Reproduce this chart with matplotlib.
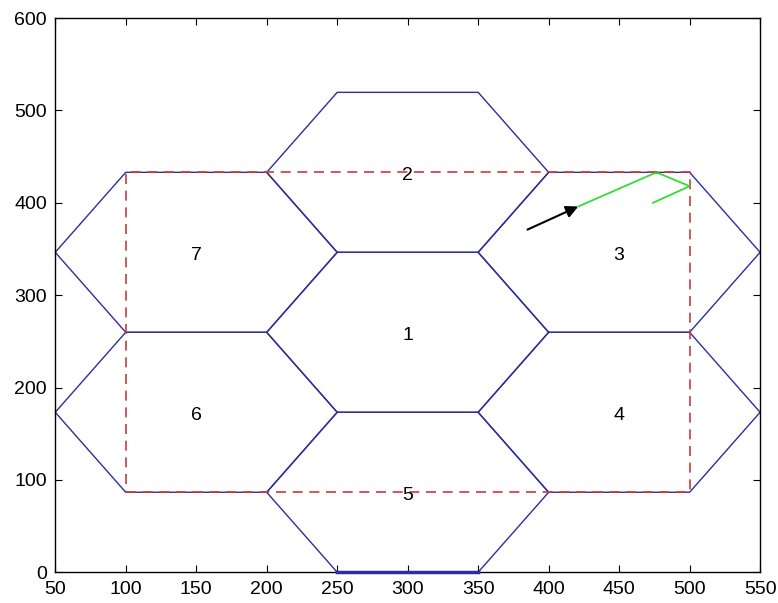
import numpy as np
import matplotlib.pyplot as plt

plt.rcParams['font.family'] = ['Liberation Sans', 'DejaVu Sans']

# hexagonal cells: label, center x, center y (cell radius 100)
cell_ids = ['1', '2', '3', '4', '5', '6', '7']
cell_x = [300, 300, 450, 450, 300, 150, 150]
cell_y = [259.8, 433.0, 346.4, 173.2, 86.6, 173.2, 346.4]
radius = 100

# coverage rectangle
rect_x = [100, 500]
rect_y = [86.6, 433.0]

# mobile path
arrow_start = (385, 371)
arrow_end = (421, 396)
path_x = [421, 475, 478, 500, 474]
path_y = [396, 432, 432, 418, 400]

blue = '#2e2e9c'
red = '#c83c3c'


def hexagon(cx, cy, r):
    ang = np.deg2rad(np.arange(0, 361, 60))
    return cx + r * np.cos(ang), cy + r * np.sin(ang)


def main():
    fig = plt.figure(figsize=(7.78, 6.03), dpi=100)
    ax = fig.add_axes([0.071, 0.051, 0.906, 0.919])

    for label, cx, cy in zip(cell_ids, cell_x, cell_y):
        hx, hy = hexagon(cx, cy, radius)
        ax.plot(hx, hy, color=blue, lw=1.0, clip_on=False, zorder=2)
        ax.text(cx, cy - 3, label, ha='center', va='center', fontsize=14,
                zorder=4)

    # bottom edge of cell 5 sits on the axis
    hx, hy = hexagon(cell_x[4], cell_y[4], radius)
    ax.plot(hx[4:6], hy[4:6], color=blue, lw=2.5, clip_on=False, zorder=3)

    rx = [rect_x[0], rect_x[1], rect_x[1], rect_x[0], rect_x[0]]
    ry = [rect_y[0], rect_y[0], rect_y[1], rect_y[1], rect_y[0]]
    ax.plot(rx, ry, color=red, lw=1.2, ls=(0, (6, 4)), zorder=3)

    ax.plot(path_x, path_y, color='#33dd33', lw=1.3, zorder=3)
    ax.annotate('', xy=arrow_end, xytext=arrow_start,
                arrowprops=dict(arrowstyle='-|>', color='black', lw=1.5,
                                mutation_scale=18, shrinkA=0, shrinkB=0),
                zorder=4)

    ax.set_xlim(50, 550)
    ax.set_ylim(0, 600)
    ax.set_xticks(np.arange(50, 551, 50))
    ax.set_yticks(np.arange(0, 601, 100))
    ax.tick_params(direction='in', length=5, labelsize=14, top=True,
                   right=True, labeltop=False, labelright=False)
    ax.tick_params(axis='x', pad=6)
    ax.tick_params(axis='y', pad=6)
    for s in ax.spines.values():
        s.set_linewidth(1.0)

    fig.savefig('out.png', dpi=100)


if __name__ == '__main__':
    main()
